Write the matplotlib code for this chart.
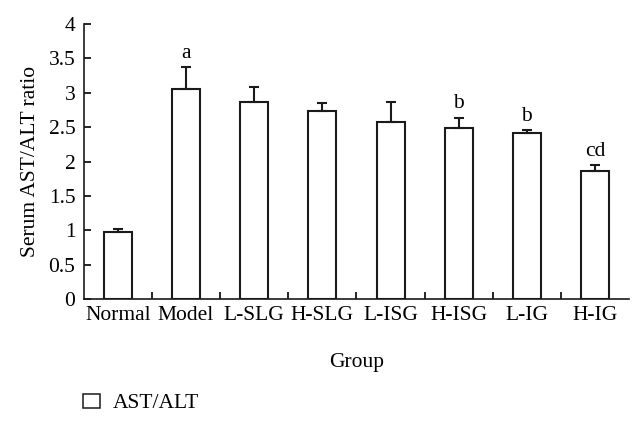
import matplotlib
matplotlib.use("Agg")
import matplotlib.pyplot as plt
from matplotlib.patches import Patch
import numpy as np

groups = ["Normal", "Model", "L-SLG", "H-SLG", "L-ISG", "H-ISG", "L-IG", "H-IG"]
values = [0.97, 3.06, 2.86, 2.74, 2.58, 2.49, 2.42, 1.86]
errors = [0.05, 0.31, 0.22, 0.11, 0.28, 0.15, 0.04, 0.09]
letters = ["", "a", "", "", "", "b", "b", "cd"]
yticks = [0, 0.5, 1, 1.5, 2, 2.5, 3, 3.5, 4]
ytick_labels = ["0", "0.5", "1", "1.5", "2", "2.5", "3", "3.5", "4"]

plt.rcParams['font.family'] = ['Liberation Serif', 'DejaVu Serif']
FS = 15.5

fig = plt.figure(figsize=(6.44, 4.22), dpi=100)
ax = fig.add_axes([0.130, 0.2915, 0.847, 0.6515])

x = np.arange(len(groups))
ax.bar(x, values, width=0.41, color="white", edgecolor="#1a1a1a", linewidth=1.5, zorder=2)
ax.errorbar(x, values, yerr=[np.zeros(len(errors)), errors], fmt="none",
            ecolor="#1a1a1a", elinewidth=1.5, capsize=3.5, capthick=1.5, zorder=3)

for xi, v, e, t in zip(x, values, errors, letters):
    if t:
        ax.annotate(t, (xi, v + e), xytext=(0, 3), textcoords="offset points",
                    ha="center", va="bottom", fontsize=FS)

ax.set_xlim(-0.5, len(groups) - 0.5)
ax.set_ylim(0, 4)
ax.set_yticks(yticks)
ax.set_yticklabels(ytick_labels, fontsize=FS)
ax.set_xticks(x)
ax.set_xticklabels(groups, fontsize=FS)
ax.tick_params(axis="x", length=0, pad=5)
ax.set_xticks(np.arange(0.5, len(groups) - 0.5, 1), minor=True)
ax.tick_params(axis="x", which="minor", direction="in", length=5, width=1.2)
ax.tick_params(axis="y", direction="in", length=5, width=1.2, pad=6)

for s in ["top", "right"]:
    ax.spines[s].set_visible(False)
for s in ["left", "bottom"]:
    ax.spines[s].set_linewidth(1.2)
    ax.spines[s].set_color("#1a1a1a")

ax.set_xlabel("Group", fontsize=FS, labelpad=20)
ax.set_ylabel("Serum AST/ALT ratio", fontsize=FS, labelpad=6)

handle = Patch(facecolor="white", edgecolor="#1a1a1a", linewidth=1.1, label="AST/ALT")
fig.legend(handles=[handle], loc="center left", bbox_to_anchor=(0.129, 0.044),
           frameon=False, fontsize=FS, handlelength=0.77, handleheight=0.63,
           handletextpad=0.63, borderpad=0, borderaxespad=0)

fig.savefig("out.png", dpi=100)
